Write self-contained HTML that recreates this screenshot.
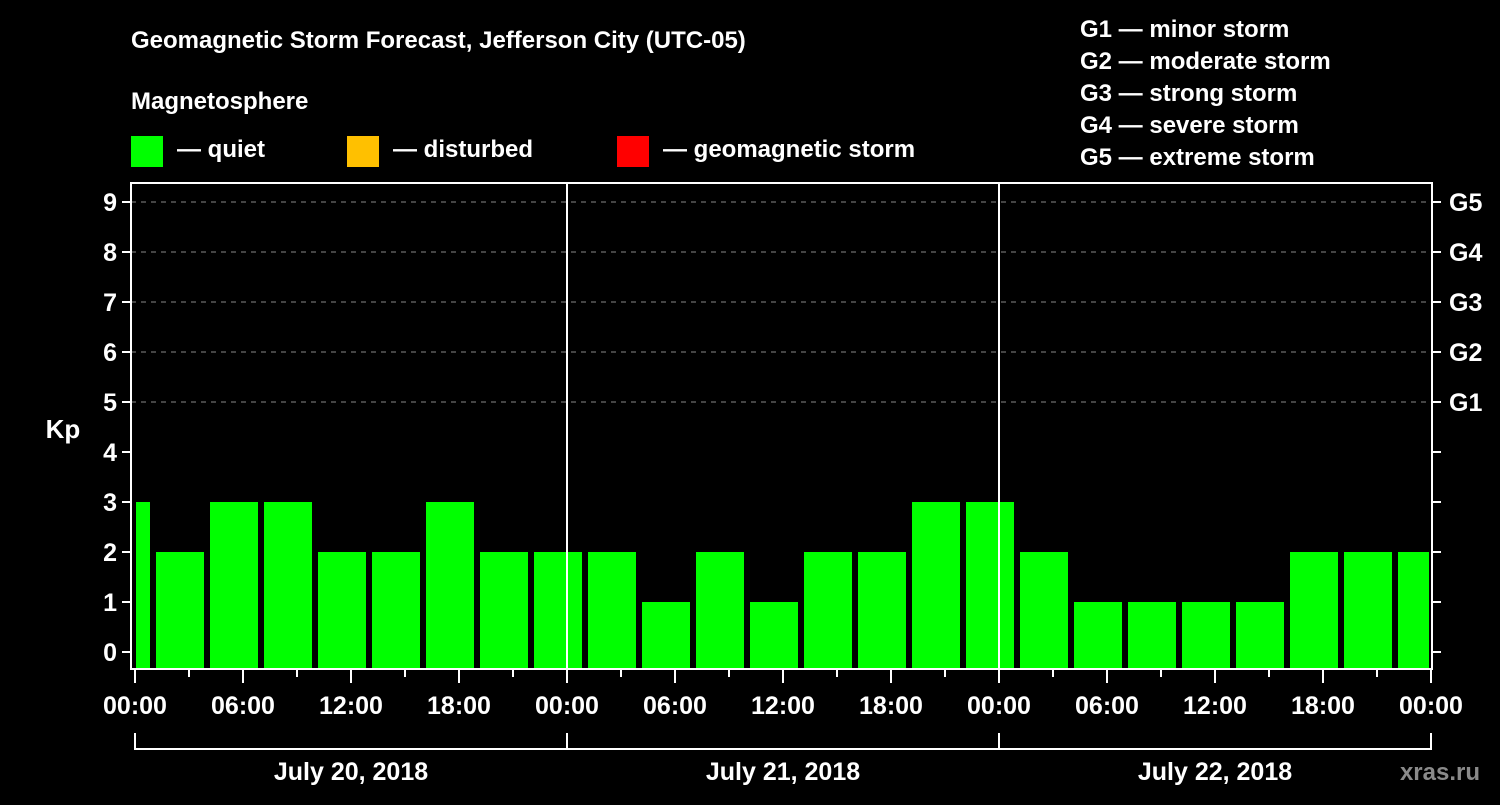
<!DOCTYPE html>
<html><head><meta charset="utf-8"><style>
body{margin:0;background:#000;width:1500px;height:800px;overflow:hidden}
text{font-family:"Liberation Sans",sans-serif;font-weight:bold;fill:#fff}
</style></head><body>
<svg id="chart" width="1500" height="800" xmlns="http://www.w3.org/2000/svg">
<rect width="1500" height="800" fill="#000"/>
<text x="131" y="48" font-size="24">Geomagnetic Storm Forecast, Jefferson City (UTC-05)</text>
<text x="131" y="109" font-size="24">Magnetosphere</text>
<rect x="131" y="136" width="32" height="31" fill="#00ff00"/>
<text x="177" y="157" font-size="24">— quiet</text>
<rect x="347" y="136" width="32" height="31" fill="#ffc000"/>
<text x="393" y="157" font-size="24">— disturbed</text>
<rect x="617" y="136" width="32" height="31" fill="#ff0000"/>
<text x="663" y="157" font-size="24">— geomagnetic storm</text>
<g font-size="24">
<text x="1080" y="37">G1 — minor storm</text>
<text x="1080" y="69">G2 — moderate storm</text>
<text x="1080" y="101">G3 — strong storm</text>
<text x="1080" y="133">G4 — severe storm</text>
<text x="1080" y="165">G5 — extreme storm</text>
</g>
<text x="63" y="438" font-size="26" text-anchor="middle">Kp</text>
<text x="1480" y="780" font-size="24" text-anchor="end" fill="#888" style="fill:#8a8a8a">xras.ru</text>
<g id="grid"></g><g id="bars"></g><g id="axes"></g>
</svg>
<script>
const kpValues=[3,2,3,3,2,2,3,2,2,2,1,2,1,2,2,3,3,2,1,1,1,1,2,2,2];
const barHours=[-0.5,2.5,5.5,8.5,11.5,14.5,17.5,20.5,23.5,26.5,29.5,32.5,35.5,38.5,41.5,44.5,47.5,50.5,53.5,56.5,59.5,62.5,65.5,68.5,71.5];
const yTicks=[0,1,2,3,4,5,6,7,8,9];
const gLabels=["G1","G2","G3","G4","G5"];
const timeLabels=["00:00","06:00","12:00","18:00"];
const dayLabels=["July 20, 2018","July 21, 2018","July 22, 2018"];
const NS="http://www.w3.org/2000/svg";
const L=131,R=1432,T=183,B=669,X0=135,PXH=18;
const x=h=>X0+h*PXH, y=v=>652-v*50;
function mk(tag,attrs,parent){const e=document.createElementNS(NS,tag);for(const k in attrs)e.setAttribute(k,attrs[k]);parent.appendChild(e);return e;}
const grid=document.getElementById('grid'),bars=document.getElementById('bars'),axes=document.getElementById('axes');
yTicks.forEach(v=>{
 if(v>=5){const l=mk('line',{x1:L,x2:R,y1:y(v),y2:y(v),stroke:'#888','stroke-dasharray':'5,5','stroke-width':1},grid);
 
 }
 const t=mk('line',{x1:L-9,x2:L,y1:y(v),y2:y(v),stroke:'#fff','stroke-width':2},axes);
 
 
 const t2=mk('line',{x1:R,x2:R+9,y1:y(v),y2:y(v),stroke:'#fff','stroke-width':2},axes);
 
 
 const lb=mk('text',{x:L-14,y:y(v)+9,'font-size':25,'text-anchor':'end'},axes);lb.textContent=v;
 
 
});
gLabels.forEach((g,i)=>{const lb=mk('text',{x:R+17,y:y(5+i)+9,'font-size':25},axes);lb.textContent=g;
 
 });
kpValues.forEach((v,i)=>{
 let x1=Math.max(x(barHours[i])-24,L+5),x2=Math.min(x(barHours[i])+24,R-3);
 const c=v>=5?'#ff0000':(v>=4?'#ffc000':'#00ff00');
 const r=mk('rect',{x:x1,y:y(v),width:x2-x1,height:B-y(v),fill:c},bars);
 
 
});
for(let d=0;d<=2;d++){const xv=x(24*(d+1));if(d<2){const l=mk('line',{x1:xv,x2:xv,y1:T,y2:B,stroke:'#fff','stroke-width':2},axes);
 
 }}
const frame=mk('rect',{x:L,y:T,width:R-L,height:B-T,fill:'none',stroke:'#fff','stroke-width':2},axes);


for(let h=0;h<=72;h+=3){const major=h%6===0;
 const t=mk('line',{x1:x(h),x2:x(h),y1:B,y2:B+(major?14:8),stroke:'#fff','stroke-width':2},axes);
 
 
 if(major){const lb=mk('text',{x:x(h),y:714,'font-size':25,'text-anchor':'middle'},axes);lb.textContent=timeLabels[(h/6)%4];
 
 }}
dayLabels.forEach((d,i)=>{const a=x(24*i),b=x(24*(i+1));
 const p=mk('path',{d:`M${a},733V749H${b}V733`,fill:'none',stroke:'#fff','stroke-width':2},axes);
 
 
 const lb=mk('text',{x:(a+b)/2,y:780,'font-size':25,'text-anchor':'middle'},axes);lb.textContent=d;
 
 });
</script>
</body></html>
